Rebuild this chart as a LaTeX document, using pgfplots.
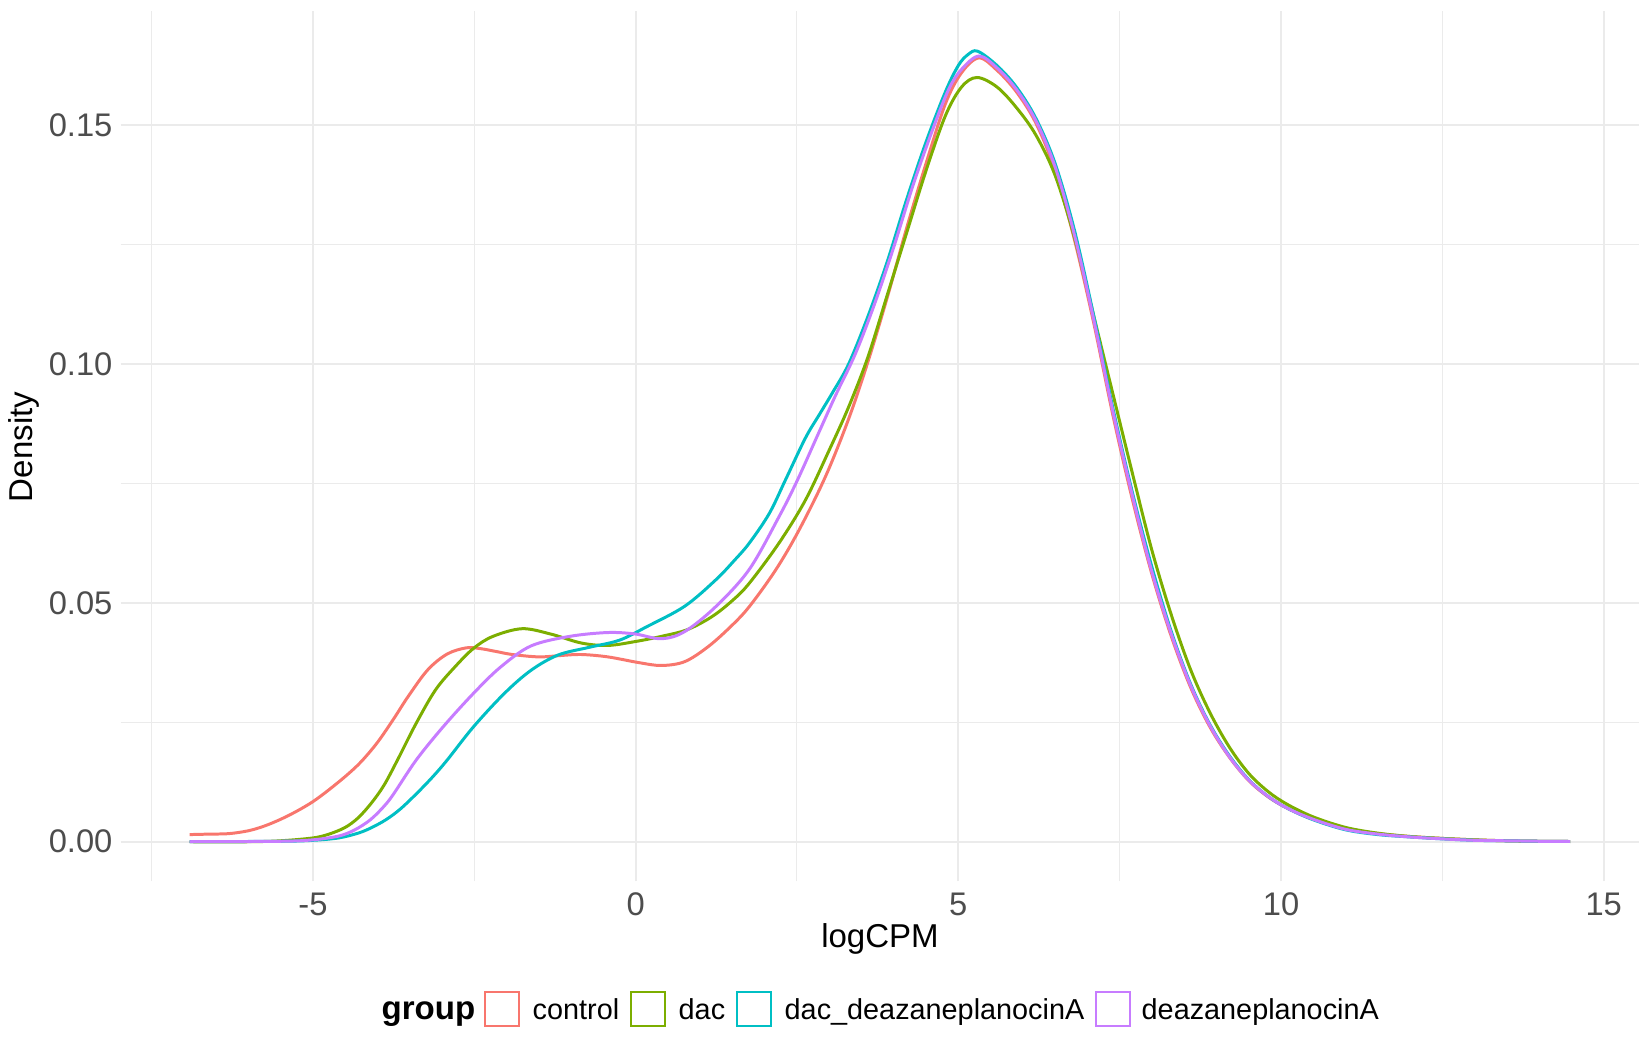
\documentclass[border=0pt]{standalone}
\usepackage{fontspec}
\setmainfont{Liberation Sans}
\usepackage{pgfplots}
\pgfplotsset{compat=1.18}
\definecolor{cctrl}{HTML}{F8766D}
\definecolor{cdac}{HTML}{7CAE00}
\definecolor{cdd}{HTML}{00BFC4}
\definecolor{cdea}{HTML}{C77CFF}
\definecolor{gridc}{HTML}{EBEBEB}
\definecolor{tickc}{HTML}{4D4D4D}
\begin{document}
\begin{tikzpicture}
\path[use as bounding box] (0,0) rectangle (16.5,10.5);
\begin{axis}[
  at={(1.206cm,1.687cm)}, anchor=south west,
  scale only axis, width=15.186cm, height=8.702cm,
  xmin=-7.98, xmax=15.55, ymin=-0.00828, ymax=0.1739,
  axis line style={draw=none},
  tick style={draw=none},
  major tick length=0pt, minor tick length=0pt,
  xtick={-5,0,5,10,15}, xticklabels={-5,0,5,10,15},
  ytick={0,0.05,0.1,0.15}, yticklabels={0.00,0.05,0.10,0.15},
  minor xtick={-7.5,-2.5,2.5,7.5,12.5},
  minor ytick={0.025,0.075,0.125},
  grid=both,
  major grid style={draw=gridc, line width=0.6pt},
  minor grid style={draw=gridc, line width=0.3pt},
  xticklabel style={anchor=north, inner sep=0pt, yshift=-0.11cm, font=\fontsize{9.3}{11}\selectfont, text=tickc},
  yticklabel style={anchor=east, inner sep=0pt, xshift=-0.075cm, font=\fontsize{9.3}{11}\selectfont, text=tickc},
  scaled y ticks=false,
  every axis plot/.append style={line width=0.85pt, smooth, tension=0.55, mark=none},
]
% control
\addplot[cctrl] coordinates {
(-6.91,0.0015) (-6.6,0.0016) (-6.3,0.0017) (-6.0,0.0023) (-5.75,0.0033) (-5.5,0.0047)
(-5.25,0.0064) (-5.0,0.0084) (-4.75,0.0109) (-4.47,0.0140) (-4.25,0.0168) (-4.0,0.0208)
(-3.75,0.0257) (-3.52,0.0305) (-3.22,0.0360) (-2.92,0.0393) (-2.62,0.0406) (-2.39,0.0404)
(-2.15,0.0398) (-1.91,0.0392) (-1.50,0.0387) (-1.15,0.0390) (-0.84,0.0392) (-0.43,0.0387)
(0.05,0.0375) (0.40,0.0369) (0.76,0.0377) (1.12,0.0408) (1.47,0.0450) (1.76,0.0492)
(2.17,0.0569) (2.53,0.0652) (2.94,0.0764) (3.3,0.0885) (3.6,0.1005) (3.9,0.1140)
(4.2,0.1285) (4.5,0.1420) (4.8,0.1545) (5.05,0.1610) (5.32,0.1641) (5.6,0.1615)
(5.9,0.1570) (6.2,0.1505) (6.5,0.1405) (6.8,0.1260) (7.1,0.1085) (7.4,0.0890)
(7.7,0.0715) (8.0,0.0560) (8.3,0.0430) (8.6,0.0323) (8.9,0.0240) (9.2,0.0177)
(9.5,0.0128) (9.8,0.0094) (10.1,0.0070) (10.5,0.0047) (11.0,0.0027) (11.5,0.0017)
(12.0,0.0011) (12.5,0.0007) (13.0,0.0004) (13.5,0.0002) (14.0,0.0001) (14.48,0.00005)
};
% dac
\addplot[cdac] coordinates {
(-6.91,0.0000) (-6.0,0.0000) (-5.5,0.0002) (-5.0,0.0008) (-4.75,0.0016) (-4.5,0.0030)
(-4.3,0.0050) (-4.1,0.0080) (-3.9,0.0118) (-3.69,0.0171) (-3.40,0.0248) (-3.10,0.0318)
(-2.80,0.0366) (-2.51,0.0405) (-2.21,0.0430) (-1.76,0.0446) (-1.32,0.0435) (-0.84,0.0416)
(-0.43,0.0411) (-0.01,0.0419) (0.40,0.0430) (0.80,0.0444) (1.18,0.0471) (1.50,0.0505)
(1.76,0.0541) (2.22,0.0625) (2.63,0.0715) (3.0,0.0820) (3.3,0.0910) (3.6,0.1015)
(3.9,0.1145) (4.2,0.1275) (4.5,0.1405) (4.8,0.1520) (5.05,0.1580) (5.29,0.1600)
(5.6,0.1580) (5.9,0.1537) (6.2,0.1480) (6.5,0.1395) (6.8,0.1265) (7.1,0.1100)
(7.4,0.0935) (7.7,0.0770) (8.0,0.0610) (8.3,0.0475) (8.6,0.0360) (8.9,0.0270)
(9.2,0.0198) (9.5,0.0143) (9.8,0.0105) (10.1,0.0078) (10.5,0.0052) (11.0,0.0030)
(11.5,0.0018) (12.0,0.0011) (12.5,0.0007) (13.0,0.0004) (13.5,0.0002) (14.0,0.0001)
(14.48,0.00005)
};
% dac_deazaneplanocinA
\addplot[cdd] coordinates {
(-6.91,0.0000) (-5.5,0.0001) (-5.0,0.0003) (-4.6,0.0008) (-4.3,0.0018) (-4.1,0.0029)
(-3.87,0.0046) (-3.65,0.0068) (-3.40,0.0100) (-3.15,0.0135) (-2.92,0.0171) (-2.51,0.0241)
(-2.03,0.0311) (-1.62,0.0359) (-1.20,0.0391) (-0.72,0.0407) (-0.25,0.0422) (0.17,0.0450)
(0.76,0.0493) (1.24,0.0548) (1.53,0.0589) (1.76,0.0625) (2.07,0.0687) (2.32,0.0757)
(2.63,0.0845) (2.85,0.0895) (3.05,0.0940) (3.3,0.1000) (3.6,0.1100) (3.9,0.1215)
(4.2,0.1345) (4.5,0.1465) (4.8,0.1570) (5.0,0.1625) (5.15,0.1648) (5.3,0.1655)
(5.6,0.1625) (5.9,0.1580) (6.2,0.1515) (6.5,0.1420) (6.8,0.1280) (7.1,0.1100)
(7.4,0.0905) (7.7,0.0730) (8.0,0.0575) (8.3,0.0440) (8.6,0.0330) (8.9,0.0245)
(9.2,0.0180) (9.5,0.0130) (9.8,0.0095) (10.1,0.0070) (10.5,0.0046) (11.0,0.0025)
(11.5,0.0015) (12.0,0.0010) (12.5,0.0006) (13.0,0.0003) (13.5,0.0002) (14.0,0.0001)
(14.48,0.00005)
};
% deazaneplanocinA
\addplot[cdea] coordinates {
(-6.91,0.0000) (-5.5,0.0001) (-5.0,0.0004) (-4.6,0.0012) (-4.35,0.0025) (-4.11,0.0046)
(-3.9,0.0074) (-3.75,0.0100) (-3.40,0.0171) (-2.98,0.0241) (-2.51,0.0311) (-2.09,0.0366)
(-1.62,0.0410) (-1.02,0.0430) (-0.43,0.0438) (-0.01,0.0435) (0.40,0.0425) (0.76,0.0440)
(1.24,0.0492) (1.76,0.0570) (2.22,0.0680) (2.5,0.0755) (2.8,0.0845) (3.1,0.0935)
(3.4,0.1020) (3.7,0.1125) (4.0,0.1245) (4.3,0.1375) (4.6,0.1490) (4.85,0.1575)
(5.05,0.1617) (5.32,0.1645) (5.6,0.1620) (5.9,0.1575) (6.2,0.1510) (6.5,0.1413)
(6.8,0.1270) (7.1,0.1092) (7.4,0.0898) (7.7,0.0723) (8.0,0.0565) (8.3,0.0435)
(8.6,0.0327) (8.9,0.0243) (9.2,0.0178) (9.5,0.0129) (9.8,0.0095) (10.1,0.0070)
(10.5,0.0047) (11.0,0.0026) (11.5,0.0016) (12.0,0.0010) (12.5,0.0006) (13.0,0.0003)
(13.5,0.0002) (14.0,0.0001) (14.48,0.00005)
};
\end{axis}
% axis titles
\node[anchor=base, inner sep=0pt, font=\fontsize{9.4}{11}\selectfont] at (8.80,1.02) {logCPM};
\node[rotate=90, inner sep=0pt, font=\fontsize{9.4}{11}\selectfont] at (0.24,6.03) {Density};
% legend
\node[anchor=base west, inner sep=0pt, font=\bfseries\fontsize{9.4}{11}\selectfont] at (3.81,0.31) {group};
\draw[cctrl, line width=0.6pt, fill=white] (4.85,0.24) rectangle (5.19,0.58);
\node[anchor=base west, inner sep=0pt, font=\fontsize{8.2}{10}\selectfont] at (5.32,0.31) {control};
\draw[cdac, line width=0.6pt, fill=white] (6.31,0.24) rectangle (6.65,0.58);
\node[anchor=base west, inner sep=0pt, font=\fontsize{8.2}{10}\selectfont] at (6.78,0.31) {dac};
\draw[cdd, line width=0.6pt, fill=white] (7.37,0.24) rectangle (7.71,0.58);
\node[anchor=base west, inner sep=0pt, font=\fontsize{8.2}{10}\selectfont] at (7.84,0.31) {dac\_deazaneplanocinA};
\draw[cdea, line width=0.6pt, fill=white] (10.96,0.24) rectangle (11.30,0.58);
\node[anchor=base west, inner sep=0pt, font=\fontsize{8.2}{10}\selectfont] at (11.41,0.31) {deazaneplanocinA};
\end{tikzpicture}
\end{document}
